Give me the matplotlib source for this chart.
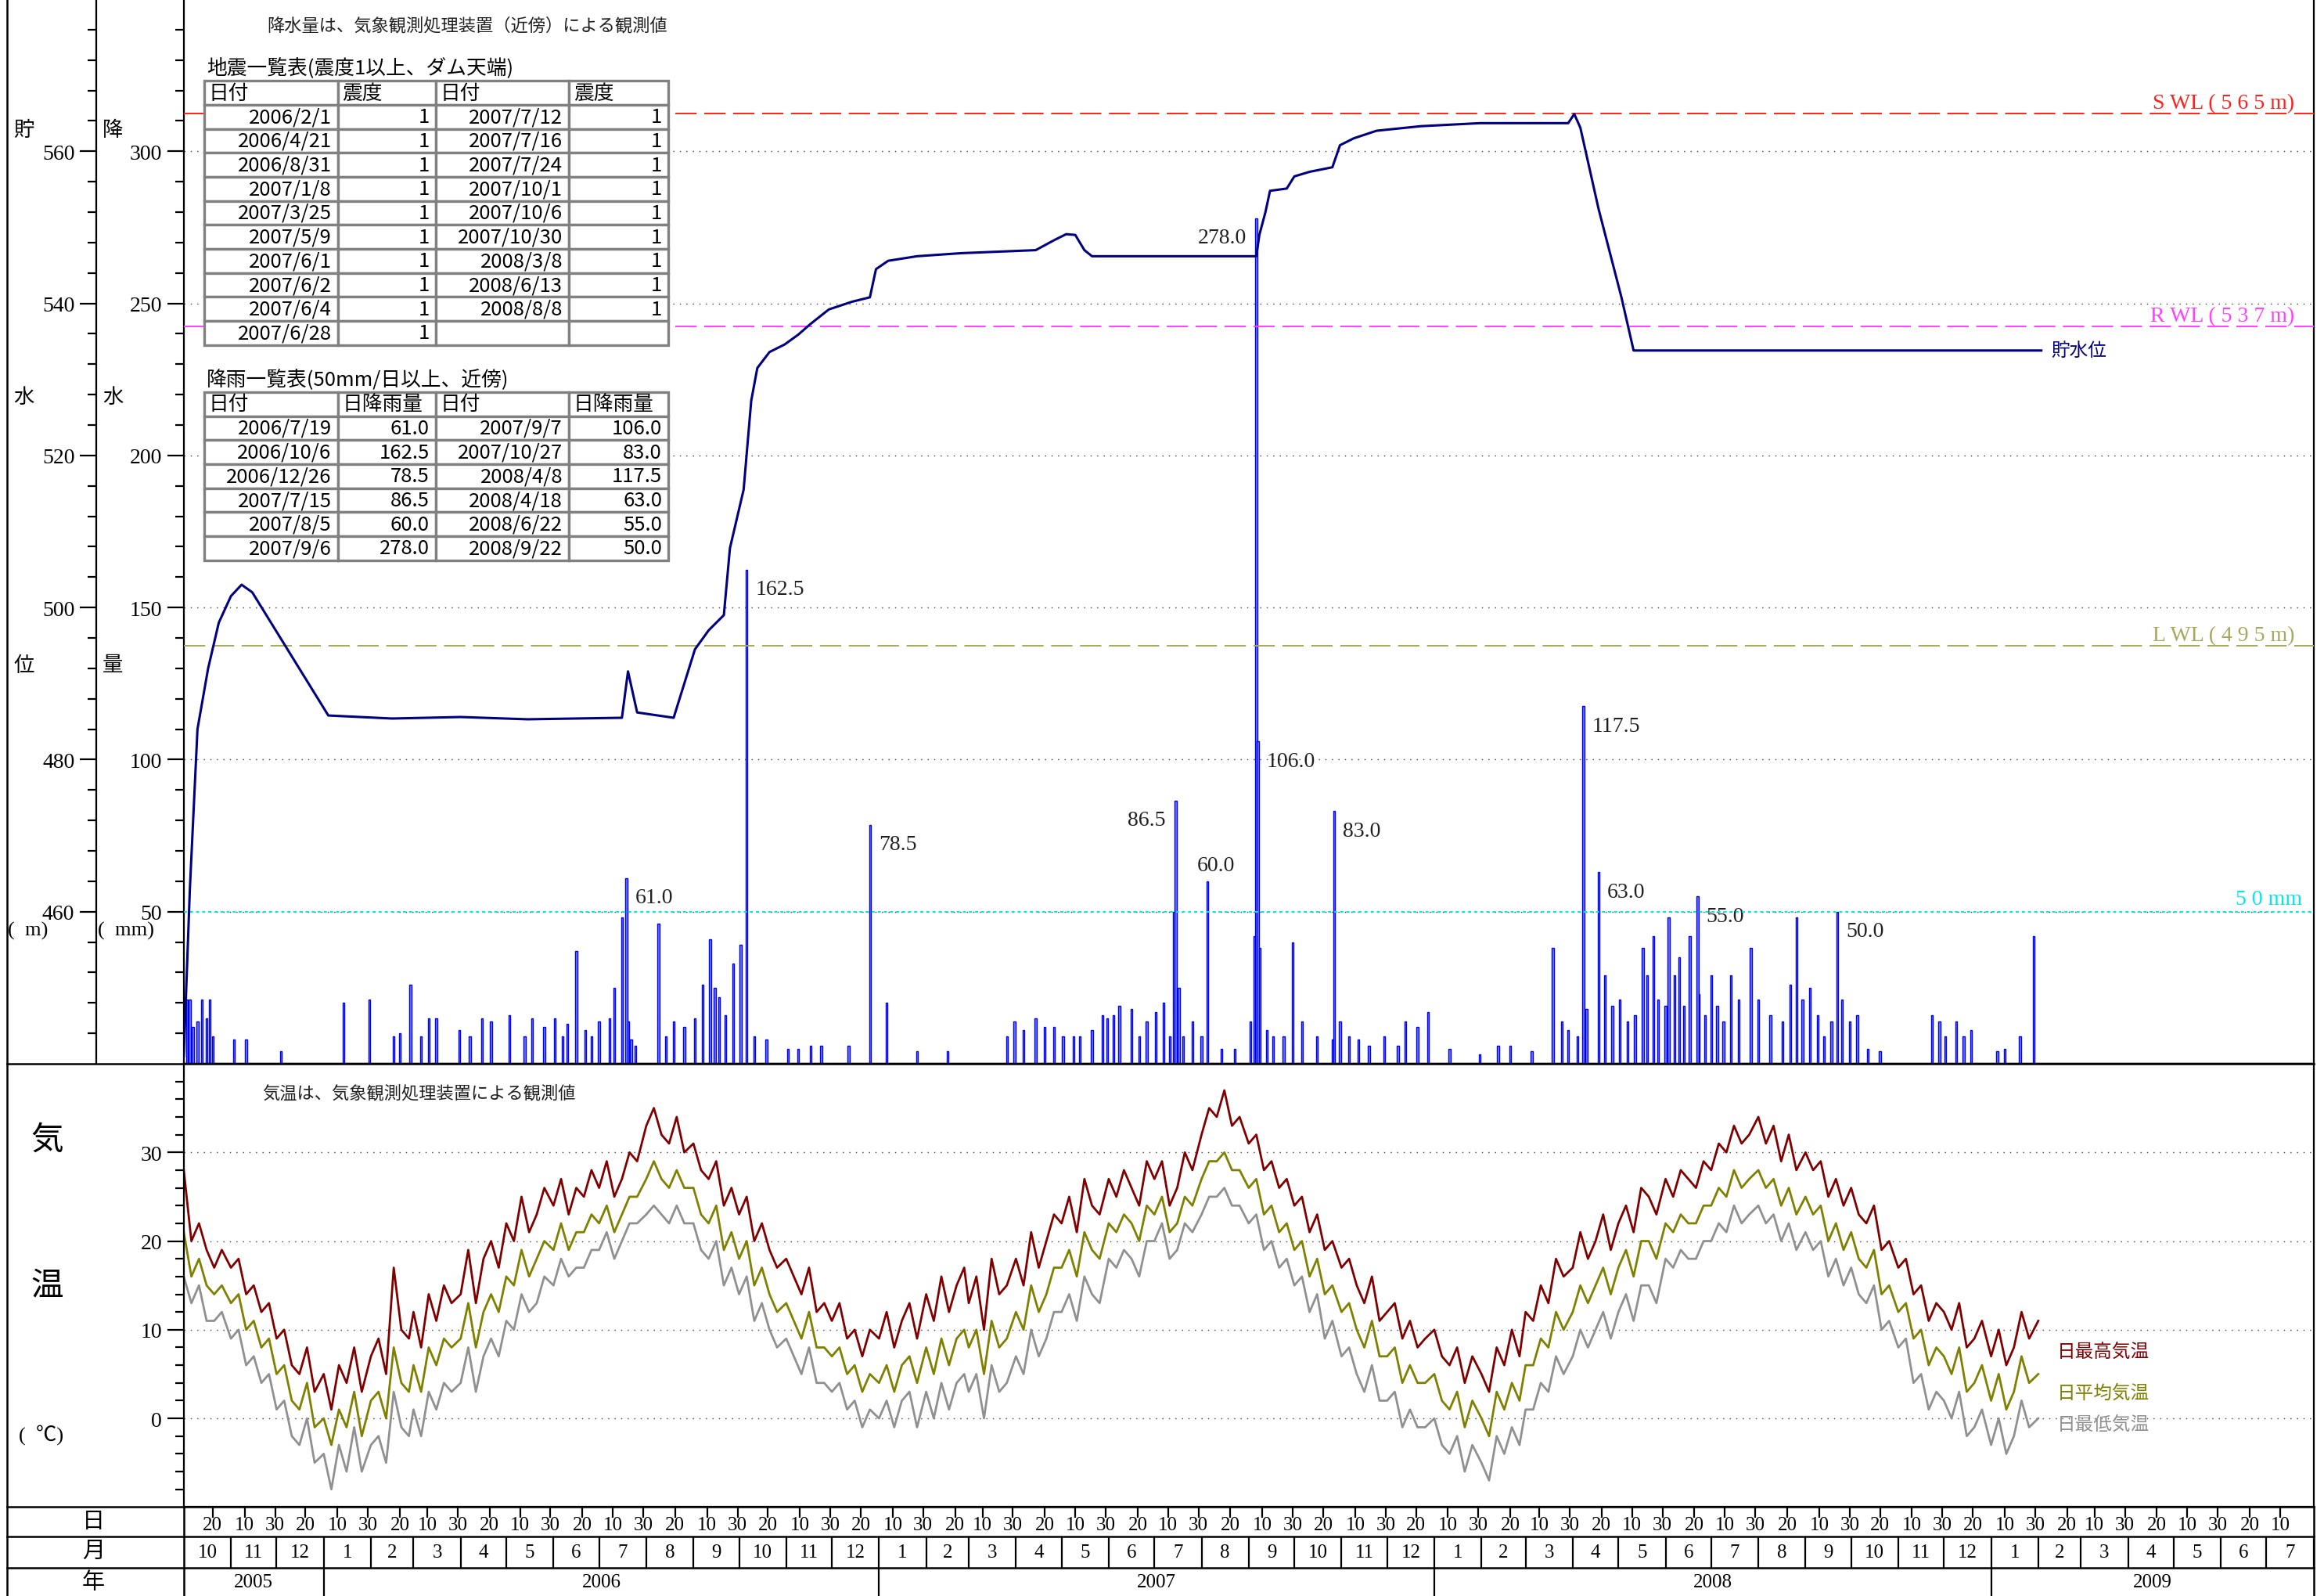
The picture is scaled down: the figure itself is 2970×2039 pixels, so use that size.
import numpy as np
import pandas as pd
import matplotlib
matplotlib.use("Agg")
from matplotlib import pyplot as plt
from matplotlib.lines import Line2D
from matplotlib.patches import Rectangle
import matplotlib.dates as mdates

plt.rcParams['font.family'] = ['Liberation Serif', 'Noto Sans CJK JP']
GOTHIC = ['Noto Sans CJK JP', 'DejaVu Sans']

# ---------------- data ----------------
# reservoir level (m)
level_dates = ["2005-10-01", "2005-10-05", "2005-10-10", "2005-10-17", "2005-10-24", "2005-11-01",
               "2005-11-08", "2005-11-15", "2006-01-04", "2006-02-15", "2006-04-01", "2006-05-15",
               "2006-07-16", "2006-07-20", "2006-07-26", "2006-08-19", "2006-08-26", "2006-09-02",
               "2006-09-11", "2006-09-21", "2006-09-25", "2006-10-04", "2006-10-09", "2006-10-13",
               "2006-10-21", "2006-10-31", "2006-11-09", "2006-11-17", "2006-11-29", "2006-12-14",
               "2006-12-26", "2006-12-30", "2007-01-07", "2007-01-26", "2007-02-24", "2007-04-14",
               "2007-04-26", "2007-05-04", "2007-05-10", "2007-05-16", "2007-05-21", "2007-09-06",
               "2007-09-08", "2007-09-12", "2007-09-15", "2007-09-26", "2007-10-01", "2007-10-11",
               "2007-10-26", "2007-10-31", "2007-11-09", "2007-11-24", "2007-12-23", "2008-01-31",
               "2008-03-29", "2008-04-02", "2008-04-06", "2008-04-18", "2008-05-03", "2008-05-07",
               "2008-05-11", "2009-02-03"]
level_m = [441.0, 463.0, 484.0, 492.0, 498.0, 501.5,
           503.0, 502.0, 485.8, 485.4, 485.6, 485.3,
           485.5, 491.6, 486.2, 485.5, 490.0, 494.5,
           497.0, 499.0, 507.8, 515.5, 527.2, 531.5,
           533.6, 534.6, 535.9, 537.3, 539.2, 540.2,
           540.8, 544.5, 545.6, 546.2, 546.6, 547.0,
           548.3, 549.1, 549.0, 547.0, 546.2, 546.2,
           549.0, 552.0, 554.8, 555.1, 556.7, 557.3,
           557.9, 560.8, 561.7, 562.7, 563.3, 563.7,
           563.7, 564.9, 563.1, 552.4, 540.8, 537.3,
           533.8, 533.8]

# daily rainfall (mm) - days below 50 mm
rain_dates = [
    "2005-10-03", "2005-10-05", "2005-10-07", "2005-10-10", "2005-10-13", "2005-10-16", "2005-10-18",
    "2005-10-20", "2005-11-03", "2005-11-11", "2005-12-04",
    "2006-01-14", "2006-01-31", "2006-02-16", "2006-02-20", "2006-02-27", "2006-03-06", "2006-03-11",
    "2006-03-16", "2006-03-31", "2006-04-07", "2006-04-15", "2006-04-21", "2006-05-03", "2006-05-13",
    "2006-05-18", "2006-05-26", "2006-06-02", "2006-06-07", "2006-06-10", "2006-06-16", "2006-06-22",
    "2006-06-26", "2006-07-01", "2006-07-08", "2006-07-11", "2006-07-16", "2006-07-20", "2006-07-22",
    "2006-07-25", "2006-08-09", "2006-08-14", "2006-08-19", "2006-08-26", "2006-09-02", "2006-09-07",
    "2006-09-12", "2006-09-15", "2006-09-18", "2006-09-22", "2006-09-27", "2006-10-02", "2006-10-11",
    "2006-10-19", "2006-11-02", "2006-11-09", "2006-11-17", "2006-11-24", "2006-12-12",
    "2007-01-06", "2007-01-26", "2007-02-15", "2007-03-26", "2007-03-31", "2007-04-06", "2007-04-14",
    "2007-04-20", "2007-04-26", "2007-05-02", "2007-05-09", "2007-05-13", "2007-05-21", "2007-05-28",
    "2007-05-31", "2007-06-04", "2007-06-08", "2007-06-16", "2007-06-21", "2007-06-26", "2007-07-02",
    "2007-07-07", "2007-07-11", "2007-07-14", "2007-07-17", "2007-07-20", "2007-07-26", "2007-08-01",
    "2007-08-14", "2007-08-23", "2007-09-02", "2007-09-05", "2007-09-08", "2007-09-13", "2007-09-17",
    "2007-09-24", "2007-09-30", "2007-10-06", "2007-10-16", "2007-10-26", "2007-10-31", "2007-11-06",
    "2007-11-12", "2007-11-19", "2007-11-29", "2007-12-08", "2007-12-13", "2007-12-21", "2007-12-28",
    "2008-01-11", "2008-01-31", "2008-02-12", "2008-02-20", "2008-03-05", "2008-03-19", "2008-03-25",
    "2008-03-29", "2008-04-04", "2008-04-10", "2008-04-22", "2008-04-27", "2008-05-02", "2008-05-07",
    "2008-05-12", "2008-05-17", "2008-05-20", "2008-05-24", "2008-05-27", "2008-06-01", "2008-06-03",
    "2008-06-07", "2008-06-10", "2008-06-13", "2008-06-17", "2008-06-23", "2008-06-27", "2008-07-01",
    "2008-07-05", "2008-07-09", "2008-07-14", "2008-07-19", "2008-07-27", "2008-08-01", "2008-08-09",
    "2008-08-17", "2008-08-22", "2008-08-26", "2008-08-30", "2008-09-04", "2008-09-09", "2008-09-13",
    "2008-09-18", "2008-09-25", "2008-09-30", "2008-10-05", "2008-10-12", "2008-10-20", "2008-11-23",
    "2008-11-28", "2008-12-02", "2008-12-09", "2008-12-14", "2008-12-19",
    "2009-01-05", "2009-01-10", "2009-01-20", "2009-01-29"]
rain_mm = [
    21, 21, 12, 14, 21, 15, 21, 9, 8, 8, 4,
    20, 21, 9, 10, 26, 9, 15, 15, 11, 9, 15, 14, 16, 9, 15, 12, 15, 9, 13, 37, 11, 9,
    14, 15, 25, 48, 14, 8, 6, 46, 9, 14, 12, 15, 26, 41, 25, 22, 16, 33, 39, 9, 8, 5, 5, 6, 6, 6,
    20, 4, 4, 9, 14, 11, 15, 12, 12, 9, 9, 9, 11, 16, 15, 16, 19, 18, 9, 14,
    17, 20, 9, 50, 25, 9, 14, 9, 5, 5, 14, 42, 38, 11, 9, 9, 40, 14, 9, 8, 14, 9, 8, 6, 9, 6, 14, 12, 17,
    5, 3, 6, 6, 4, 38, 14, 11, 9, 18, 29, 19, 21, 14, 16, 38, 29, 42, 21,
    19, 48, 29, 35, 19, 42, 23, 16, 29, 19, 14, 29, 21, 38, 21, 16, 14, 26, 48, 21,
    25, 16, 9, 14, 21, 14, 16, 5, 4, 16, 14, 9, 14, 9, 11,
    4, 5, 9, 42]

# days with 50 mm or more (labelled)
heavy_dates = ["2006-07-19", "2006-10-06", "2006-12-26", "2007-07-15", "2007-08-05", "2007-09-06",
               "2007-09-07", "2007-10-27", "2008-04-08", "2008-04-18", "2008-06-22", "2008-09-22"]
heavy_mm = [61.0, 162.5, 78.5, 86.5, 60.0, 278.0, 106.0, 83.0, 117.5, 63.0, 55.0, 50.0]

# earthquakes (intensity 1 or more)
quake_dates = ["2006/2/1", "2006/4/21", "2006/8/31", "2007/1/8", "2007/3/25", "2007/5/9", "2007/6/1",
               "2007/6/2", "2007/6/4", "2007/6/28", "2007/7/12", "2007/7/16", "2007/7/24", "2007/10/1",
               "2007/10/6", "2007/10/30", "2008/3/8", "2008/6/13", "2008/8/8"]
quake_scale = [1, 1, 1, 1, 1, 1, 1, 1, 1, 1, 1, 1, 1, 1, 1, 1, 1, 1, 1]

# air temperature, six readings per month (1st, 6th, 11th, 16th, 21st, 26th) + 2009-02-01
temp_max = [
    28, 20, 22, 19, 17, 19,   17, 18, 14, 15, 12, 13,   9, 10, 6, 5, 8, 3,
    5, 1, 6, 4, 8, 3,   7, 9, 5, 17, 10, 9,   12, 8, 14, 11, 15, 13,
    14, 19, 13, 18, 20, 17,   22, 20, 25, 21, 23, 26,   24, 27, 23, 26, 25, 28,
    26, 29, 25, 27, 30, 29,   33, 35, 32, 31, 34, 30,   31, 28, 27, 29, 24, 26,
    23, 25, 20, 22, 19, 17,   18, 16, 14, 17, 12, 13,   11, 13, 9, 10, 7, 10,
    9, 12, 8, 11, 13, 9,   14, 11, 16, 12, 15, 17,   13, 16, 10, 18, 14, 15,
    18, 15, 21, 17, 20, 23,   22, 25, 21, 27, 24, 23,   27, 25, 28, 26, 24, 29,
    27, 29, 24, 26, 30, 28,   32, 35, 34, 37, 33, 34,   31, 32, 28, 29, 26, 27,
    24, 25, 21, 23, 19, 20,   17, 18, 15, 13, 16, 11,   12, 13, 9, 11, 8, 9,
    10, 7, 6, 8, 4, 7,   5, 3, 8, 6, 10, 7,   12, 11, 15, 13, 18, 16,
    17, 21, 18, 20, 23, 19,   22, 24, 21, 26, 25, 23,   27, 25, 28, 27, 26, 29,
    28, 31, 30, 33, 31, 32,   34, 31, 33, 29, 32, 28,   30, 28, 29, 25, 27, 24,
    26, 23, 22, 24, 19, 20,   17, 18, 14, 15, 11, 13,   12, 10, 13, 8, 9, 11,
    7, 10, 6, 8, 12, 9,
    11]
temp_mean = [
    21, 16, 18, 15, 14, 15,   13, 14, 10, 11, 8, 9,   5, 6, 2, 1, 4, -1,
    0, -3, 1, -1, 3, -2,   2, 3, 0, 8, 4, 3,   6, 3, 8, 6, 9, 8,
    9, 13, 8, 12, 14, 12,   16, 15, 19, 16, 18, 20,   19, 22, 19, 21, 21, 23,
    22, 24, 21, 23, 25, 25,   27, 29, 27, 26, 28, 26,   26, 23, 22, 24, 19, 21,
    18, 20, 15, 17, 14, 12,   13, 11, 9, 12, 8, 8,   7, 8, 5, 6, 3, 5,
    4, 6, 3, 6, 7, 4,   8, 5, 9, 6, 9, 10,   8, 10, 5, 11, 8, 9,
    12, 10, 15, 12, 14, 17,   17, 19, 16, 21, 19, 18,   22, 21, 23, 22, 20, 24,
    23, 25, 21, 22, 25, 24,   27, 29, 29, 30, 28, 28,   26, 27, 23, 24, 21, 22,
    19, 20, 16, 18, 14, 15,   12, 13, 10, 8, 11, 7,   7, 8, 4, 6, 4, 4,
    5, 2, 1, 3, -1, 2,   0, -2, 3, 1, 4, 2,   6, 6, 9, 8, 12, 10,
    12, 15, 13, 15, 17, 14,   17, 19, 16, 20, 20, 18,   22, 21, 23, 22, 22, 24,
    24, 26, 25, 28, 26, 27,   28, 26, 27, 24, 26, 23,   25, 23, 24, 20, 22, 19,
    21, 18, 17, 19, 14, 15,   12, 13, 9, 10, 6, 8,   7, 5, 8, 3, 4, 6,
    2, 5, 1, 3, 7, 4,
    5]
temp_min = [
    16, 13, 15, 11, 11, 12,   9, 10, 6, 7, 4, 5,   1, 2, -2, -3, 0, -5,
    -4, -8, -3, -6, -1, -6,   -3, -2, -5, 3, -1, -2,   1, -2, 3, 1, 4, 3,
    4, 8, 3, 7, 9, 7,   11, 10, 14, 12, 13, 16,   15, 18, 16, 17, 17, 19,
    19, 21, 18, 20, 22, 22,   23, 24, 23, 22, 24, 22,   22, 19, 18, 20, 15, 17,
    14, 16, 11, 13, 10, 8,   9, 7, 5, 8, 4, 4,   3, 4, 1, 2, -1, 1,
    0, 2, -1, 2, 3, -1,   3, 0, 4, 1, 4, 5,   3, 5, 0, 6, 3, 4,
    7, 5, 10, 7, 9, 12,   12, 14, 11, 16, 14, 13,   18, 17, 19, 18, 16, 20,
    20, 22, 18, 19, 22, 21,   23, 25, 25, 26, 24, 24,   22, 23, 19, 20, 17, 18,
    15, 16, 12, 14, 9, 11,   7, 8, 5, 3, 6, 2,   2, 3, -1, 1, -1, -1,
    0, -3, -4, -2, -6, -3,   -5, -7, -2, -4, -1, -3,   1, 1, 4, 3, 7, 5,
    7, 10, 8, 10, 12, 9,   12, 14, 11, 15, 15, 13,   18, 17, 19, 18, 18, 20,
    20, 22, 21, 24, 22, 23,   24, 22, 23, 20, 22, 19,   21, 19, 20, 16, 18, 15,
    17, 14, 13, 15, 10, 11,   8, 9, 4, 5, 1, 3,   2, 0, 3, -2, -1, 1,
    -3, 0, -4, -2, 2, -1,
    0]

months_t = pd.date_range("2005-10-01", "2009-01-01", freq="MS")
temp_dates = [m + pd.Timedelta(days=d) for m in months_t for d in (0, 5, 10, 15, 20, 25)]
temp_dates.append(pd.Timestamp("2009-02-01"))


def dnum(seq):
    return mdates.date2num(pd.to_datetime(seq))


X_START = mdates.date2num(pd.Timestamp("2005-10-01"))
X_END = mdates.date2num(pd.Timestamp("2009-08-01"))

# ---------------- layout ----------------
fig = plt.figure(figsize=(29.7, 20.4), dpi=100)
X0 = 124 / 1568
X1 = 1561 / 1568
XB = 5 / 1568
W = X1 - X0
Y_MAIN = 1 - 718 / 1077
Y_TEMP = 1 - 1017 / 1077
Y_DAY = 1 - 1037 / 1077
Y_MON = 1 - 1058 / 1077

ax_r = fig.add_axes([X0, Y_MAIN, W, 1 - Y_MAIN])
ax_w = ax_r.twinx()
ax_t = fig.add_axes([X0, Y_TEMP, W, Y_MAIN - Y_TEMP])
ax_d = fig.add_axes([X0, Y_DAY, W, Y_TEMP - Y_DAY])
ax_m = fig.add_axes([X0, Y_MON, W, Y_DAY - Y_MON])
ax_y = fig.add_axes([X0, 0, W, Y_MON])

for a in (ax_r, ax_w, ax_t, ax_d, ax_m, ax_y):
    a.set_xlim(X_START, X_END)
    for s in a.spines.values():
        s.set_linewidth(1.6)

TICK = dict(labelsize=20, width=1.6, pad=5)

# ---- rain axis ----
ax_r.set_ylim(0, 350)
ax_r.set_yticks([50, 100, 150, 200, 250, 300])
ax_r.set_yticks(np.arange(10, 350, 10), minor=True)
ax_r.tick_params(axis='y', which='major', length=15, **TICK)
ax_r.tick_params(axis='y', which='minor', length=8, width=1.6)
ax_r.set_xticks([])
ax_r.spines['top'].set_visible(False)
ax_r.grid(axis='y', which='major', linestyle=(0, (1, 5)), color='#404040', linewidth=1.0)

rain_x = np.concatenate([dnum(rain_dates), dnum(heavy_dates)])
rain_v = np.concatenate([rain_mm, heavy_mm])
ax_r.bar(rain_x, rain_v, width=1.2, facecolor='#7080ff', edgecolor='#0000ff', linewidth=1.0, zorder=3)

label_off = {3: (-9, -18, 'right'), 5: (-9, -18, 'right'), 4: (-10, 15, 'left')}
for i, (d, v) in enumerate(zip(dnum(heavy_dates), heavy_mm)):
    dx, dy, ha = label_off.get(i, (8, -18, 'left'))
    ax_r.annotate(f"{v:.1f}", (d, v), xytext=(dx, dy), textcoords='offset points',
                  ha=ha, va='center', fontsize=20, color='#202020')

ax_r.axhline(50, color='#00e8e8', linestyle=(0, (2, 2)), linewidth=1.4, zorder=4)
ax_r.text(0.9945, 51, "5 0 mm", transform=ax_r.get_yaxis_transform(), ha='right', va='bottom',
          fontsize=20, color='#00e8e8')

# ---- water level axis ----
ax_w.set_ylim(440, 580)
ax_w.spines['right'].set_visible(False)
ax_w.spines['top'].set_visible(False)
ax_w.spines['left'].set_visible(True)
ax_w.spines['left'].set_position(('axes', -59 / 1437))
ax_w.yaxis.set_ticks_position('left')
ax_w.set_yticks([460, 480, 500, 520, 540, 560])
ax_w.set_yticks(np.arange(444, 580, 4), minor=True)
ax_w.tick_params(axis='y', which='major', length=15, **TICK)
ax_w.tick_params(axis='y', which='minor', length=8, width=1.6)

lx = dnum(level_dates)
ax_w.plot(lx, level_m, color='#000080', linewidth=2.2, zorder=6)
ax_w.annotate("貯水位", (lx[-1], level_m[-1]), xytext=(9, 0), textcoords='offset points',
              ha='left', va='center', fontsize=17, color='#000080')

ref_lines = [(565, "S WL ( 5 6 5 m)", '#ff2020'), (537, "R WL ( 5 3 7 m)", '#ff40ff'),
             (495, "L WL ( 4 9 5 m)", '#a8a860')]
for val, txt, col in ref_lines:
    ax_w.axhline(val, color=col, linewidth=1.4, dashes=(14, 5), zorder=2)
    ax_w.text(0.991, val + 0.1, txt, transform=ax_w.get_yaxis_transform(), ha='right', va='bottom',
              fontsize=20, color=col)

ax_r.text(0.039, 0.975, "降水量は、気象観測処理装置（近傍）による観測値", transform=ax_r.transAxes,
          ha='left', va='center', fontsize=16, color='#202020')


# ---- tables ----
def draw_table(ax, left, top, col_w, row_h, title, header, rows):
    ax.text(left + 0.001, top + 0.002, title, transform=ax.transAxes, ha='left', va='bottom',
            fontsize=18.5, family=GOTHIC, zorder=8)
    y = top
    for r, row in enumerate([header] + rows):
        x = left
        for c, txt in enumerate(row):
            ax.add_patch(Rectangle((x, y - row_h), col_w[c], row_h, transform=ax.transAxes,
                                   facecolor='white', edgecolor='#808080', linewidth=2.4, zorder=7))
            if r == 0:
                ax.text(x + 0.002, y - row_h / 2, txt, transform=ax.transAxes, ha='left', va='center',
                        fontsize=18.5, family=GOTHIC, zorder=8)
            else:
                ax.text(x + col_w[c] - 0.003, y - row_h / 2, txt, transform=ax.transAxes, ha='right',
                        va='center', fontsize=18.5, family=GOTHIC, zorder=8)
            x += col_w[c]
        y -= row_h


col_w = [90 / 1437, 66 / 1437, 90 / 1437, 67 / 1437]
row_h = 16.2 / 718
q_rows = []
for i in range(10):
    right = [quake_dates[i + 10], str(quake_scale[i + 10])] if i + 10 < len(quake_dates) else ["", ""]
    q_rows.append([quake_dates[i], str(quake_scale[i])] + right)
draw_table(ax_w, 14 / 1437, (718 - 55) / 718, col_w, row_h, "地震一覧表(震度1以上、ダム天端)",
           ["日付", "震度", "日付", "震度"], q_rows)

hd = pd.to_datetime(heavy_dates)
h_txt = [f"{t.year}/{t.month}/{t.day}" for t in hd]
r_rows = [[h_txt[i], f"{heavy_mm[i]:.1f}", h_txt[i + 6], f"{heavy_mm[i + 6]:.1f}"] for i in range(6)]
draw_table(ax_w, 14 / 1437, (718 - 265) / 718, col_w, row_h, "降雨一覧表(50mm/日以上、近傍)",
           ["日付", "日降雨量", "日付", "日降雨量"], r_rows)

# ---- temperature ----
tx = dnum(temp_dates)
ax_t.plot(tx, temp_min, color='#909090', linewidth=2.0)
ax_t.plot(tx, temp_mean, color='#808000', linewidth=2.0)
ax_t.plot(tx, temp_max, color='#800000', linewidth=2.0)
ax_t.set_ylim(-10, 40)
ax_t.set_yticks([0, 10, 20, 30])
ax_t.set_yticks(np.arange(-8, 40, 2), minor=True)
ax_t.tick_params(axis='y', which='major', length=15, **TICK)
ax_t.tick_params(axis='y', which='minor', length=8, width=1.6)
ax_t.set_xticks([])
ax_t.grid(axis='y', which='major', linestyle=(0, (1, 5)), color='#404040', linewidth=1.0)
ax_t.text(0.0369, 0.933, "気温は、気象観測処理装置による観測値", transform=ax_t.transAxes,
          ha='left', va='center', fontsize=16, color='#202020')
for txt, col, yy in [("日最高気温", '#800000', 0.351), ("日平均気温", '#808000', 0.2575),
                     ("日最低気温", '#909090', 0.187)]:
    ax_t.text(0.8796, yy, txt, transform=ax_t.transAxes, ha='left', va='center', fontsize=17, color=col)

# ---- date rows ----
months = pd.date_range("2005-10-01", "2009-07-01", freq="MS")
day_ticks, day_labels = [], []
for k, m in enumerate(months):
    for dd in ([20] if k % 2 == 0 else [10, 30]):
        t = m + pd.Timedelta(days=dd - 1)
        if t < pd.Timestamp("2009-07-25"):
            day_ticks.append(t)
            day_labels.append(str(dd))
for a in (ax_d, ax_m, ax_y):
    a.set_ylim(0, 1)
    a.set_yticks([])
    for s in a.spines.values():
        s.set_visible(False)
ax_d.set_xticks(dnum(day_ticks))
ax_d.tick_params(axis='x', direction='in', top=True, bottom=False, labelbottom=False,
                 length=10, width=1.6)
for d, lab in zip(dnum(day_ticks), day_labels):
    ax_d.text(d, 0.40, lab, ha='center', va='center', fontsize=18)

ax_m.set_xticks([])
m_next = list(months[1:]) + [pd.Timestamp("2009-08-01")]
for m, mn in zip(months, m_next):
    a0, a1 = dnum([m, mn])
    ax_m.axvline(a1, color='k', linewidth=1.6)
    ax_m.text((a0 + a1) / 2, 0.5, str(m.month), ha='center', va='center', fontsize=18)

ax_y.set_xticks([])
for yr in range(2005, 2010):
    a0 = max(mdates.date2num(pd.Timestamp(f"{yr}-01-01")), X_START)
    a1 = min(mdates.date2num(pd.Timestamp(f"{yr + 1}-01-01")), X_END)
    if yr > 2005:
        ax_y.axvline(a0, color='k', linewidth=1.6)
    ax_y.text((a0 + a1) / 2, 0.5, str(yr), ha='center', va='center', fontsize=18)


# ---- frame ----
def fline(x, y):
    fig.add_artist(Line2D(x, y, transform=fig.transFigure, color='k', linewidth=1.8))


fline([XB, XB], [0, 1])
fline([X0, X0], [0, Y_TEMP])
fline([X1, X1], [0, Y_TEMP])
for yy in (Y_MAIN, Y_TEMP, Y_DAY, Y_MON):
    fline([XB, X1], [yy, yy])

for txt, x, y in [("貯", 16, 88), ("水", 16, 268), ("位", 16, 449), ("(  m)", 19, 628),
                  ("降", 76, 88), ("水", 76, 268), ("量", 76, 449), ("(  mm)", 85, 628)]:
    fig.text(x / 1568, 1 - y / 1077, txt, ha='center', va='center', fontsize=19)
for txt, x, y, fs in [("気", 32, 770, 30), ("温", 32, 868, 30), ("(  ℃)", 28, 968, 19)]:
    fig.text(x / 1568, 1 - y / 1077, txt, ha='center', va='center', fontsize=fs)
for txt, y in [("日", 1027), ("月", 1047), ("年", 1068)]:
    fig.text(63 / 1568, 1 - y / 1077, txt, ha='center', va='center', fontsize=21)

fig.savefig("out.png", dpi=100)
